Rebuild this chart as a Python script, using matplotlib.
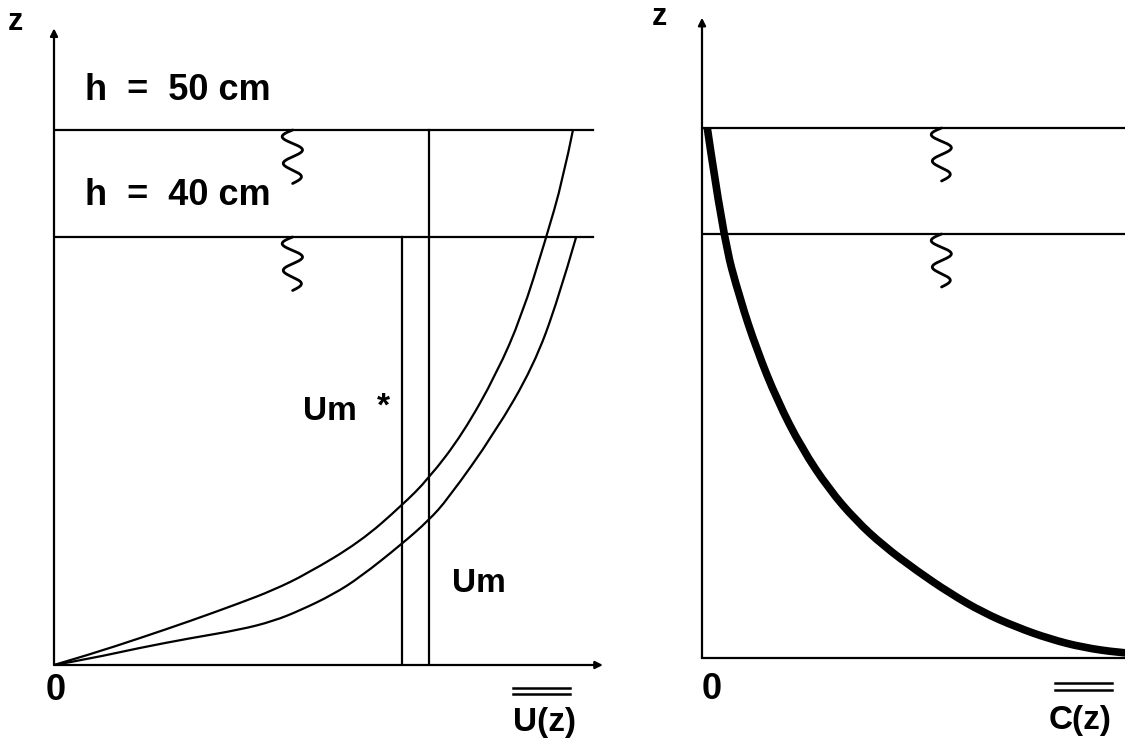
import numpy as np
import matplotlib
matplotlib.use("Agg")
import matplotlib.pyplot as plt
from matplotlib.path import Path
from matplotlib.patches import PathPatch

plt.rcParams['font.family'] = ['Liberation Sans', 'DejaVu Sans']

# Velocity profiles U(z) for two flow depths (z in cm)
depths = [50.0, 40.0]
u_h50 = [0.0, 3.4, 8.0, 12.7, 17.4, 20.5, 23.6, 28.6, 32.5, 35.0, 38.2, 41.4, 43.7, 45.9, 47.6, 48.5]
z_h50 = [0.0, 1.0, 2.5, 4.1, 5.8, 7.0, 8.5, 11.5, 14.9, 17.4, 21.6, 27.3, 32.6, 39.6, 45.5, 50.0]
u_h40 = [0.0, 3.4, 8.0, 12.7, 17.4, 20.5, 23.0, 26.1, 28.6, 32.5, 35.0, 36.8, 41.2, 44.8, 47.1, 48.8]
z_h40 = [0.0, 0.6, 1.6, 2.5, 3.3, 4.1, 5.1, 6.6, 8.2, 11.3, 13.5, 15.5, 21.7, 27.9, 34.1, 40.0]
# Depth-averaged velocities
um_star = 32.5   # h = 40 cm
um = 35.0        # h = 50 cm

# Concentration profile C(z)
c_vals = [0.5, 2.0, 3.6, 5.2, 7.1, 9.4, 12.0, 14.5, 17.1, 20.3, 23.4, 26.5, 29.7, 32.8, 35.9, 39.4, 40.5]
c_z = [50.0, 39.7, 33.8, 29.0, 24.3, 19.8, 15.9, 13.0, 10.6, 8.2, 6.1, 4.3, 2.9, 1.8, 1.0, 0.5, 0.45]

depth_labels = ["h  =  50 cm", "h  =  40 cm"]

W, H, DPI = 1125, 740, 100
fig = plt.figure(figsize=(W / DPI, H / DPI), dpi=DPI)
fig.patch.set_facecolor('white')

LW = 1.6
k1 = 10.7   # px per unit, left panel
k2 = 10.6   # px per unit, right panel

ax1 = fig.add_axes([54 / W, 75 / H, 556 / W, 665 / H])
ax1.set_xlim(0, 556 / k1)
ax1.set_ylim(0, 665 / k1)
ax1.axis('off')

ax2 = fig.add_axes([702 / W, 82 / H, 423 / W, 658 / H])
ax2.set_xlim(0, 423 / k2)
ax2.set_ylim(0, 658 / k2)
ax2.axis('off')


def smooth_curve(ax, xs, ys, lw, clip=True):
    """Stroke a smooth quadratic-Bezier path guided by the given points."""
    pts = np.column_stack([xs, ys])
    verts = [pts[0]]
    codes = [Path.MOVETO]
    for i in range(1, len(pts) - 1):
        mid = (pts[i] + pts[i + 1]) / 2.0
        if i == len(pts) - 2:
            mid = pts[i + 1]
        verts += [pts[i], mid]
        codes += [Path.CURVE3, Path.CURVE3]
    patch = PathPatch(Path(verts, codes), fill=False, edgecolor='black', lw=lw,
                      joinstyle='round', capstyle='butt', clip_on=clip)
    ax.add_patch(patch)


def arrow(ax, x0, y0, x1, y1):
    ax.annotate('', xy=(x1, y1), xytext=(x0, y0),
                arrowprops=dict(arrowstyle='-|>', color='black', lw=LW,
                                mutation_scale=11, shrinkA=0, shrinkB=0),
                annotation_clip=False)


def squiggle(ax, xc, ztop, amp=1.0, height=5.0):
    t = np.linspace(0, 1, 200)
    xs = xc + amp * np.sin(2 * np.pi * 2.0 * t + np.pi) * (1 - 0.2 * t)
    zs = ztop - height * t
    ax.plot(xs, zs, color='black', lw=2.0, solid_capstyle='round', clip_on=False)


# ---- Left panel: velocity ----
arrow(ax1, 0, 0, 0, 59.5)
arrow(ax1, 0, 0, 51.3, 0)
for d in depths:
    ax1.plot([0, 50.4], [d, d], color='black', lw=LW)
    squiggle(ax1, 22.3, d)
smooth_curve(ax1, u_h50, z_h50, LW)
smooth_curve(ax1, u_h40, z_h40, LW)
ax1.plot([um_star, um_star], [0, depths[1]], color='black', lw=LW)
ax1.plot([um, um], [0, depths[0]], color='black', lw=LW)

bold = dict(fontweight='bold', color='black', clip_on=False)
ax1.text(2.9, 52.8, depth_labels[0], fontsize=26, ha='left', va='baseline', **bold)
ax1.text(2.9, 43.0, depth_labels[1], fontsize=26, ha='left', va='baseline', **bold)
ax1.text(23.3, 22.9, "Um", fontsize=24, ha='left', va='baseline', **bold)
ax1.text(30.2, 23.3, "*", fontsize=24, ha='left', va='baseline', **bold)
ax1.text(37.2, 6.8, "Um", fontsize=24, ha='left', va='baseline', **bold)
ax1.text(-3.6, 60.1, "z", fontsize=22, ha='center', va='center', **bold)
ax1.text(0.2, -2.4, "0", fontsize=26, ha='center', va='center', **bold)
ax1.text(45.8, -6.2, "U(z)", fontsize=24, ha='center', va='baseline', **bold)
for zl in (-2.15, -2.72):
    ax1.plot([42.9, 48.2], [zl, zl], color='black', lw=1.8, clip_on=False)

# ---- Right panel: concentration ----
arrow(ax2, 0, 0, 0, 60.4)
ax2.plot([0, 423 / k2], [0, 0], color='black', lw=LW, clip_on=False)
for d in depths:
    ax2.plot([0, 423 / k2], [d, d], color='black', lw=LW)
    squiggle(ax2, 22.6, d)
smooth_curve(ax2, c_vals, c_z, 5.5)
ax2.text(-4.0, 60.5, "z", fontsize=22, ha='center', va='center', **bold)
ax2.text(0.9, -3.0, "0", fontsize=26, ha='center', va='center', **bold)
ax2.text(35.7, -6.7, "C(z)", fontsize=24, ha='center', va='baseline', **bold)
for zl in (-2.36, -3.0):
    ax2.plot([33.3, 38.7], [zl, zl], color='black', lw=1.8, clip_on=False)

fig.savefig("out.png", dpi=DPI, facecolor='white')
